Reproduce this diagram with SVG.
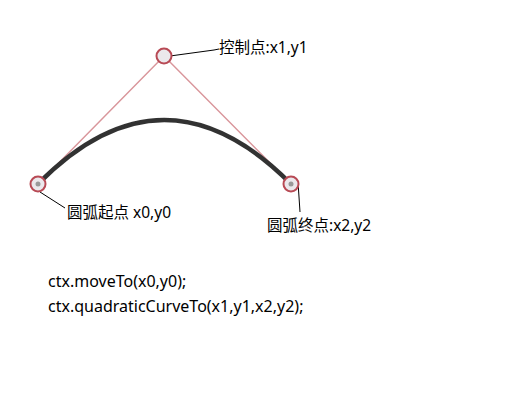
<svg xmlns="http://www.w3.org/2000/svg" width="523" height="404" viewBox="0 0 523 404">
<style>
.lbl{font-family:"Noto Sans","Noto Sans CJK SC",sans-serif;font-size:15.5px;fill:#000}
.code{font-family:"Noto Sans","Noto Sans CJK SC",sans-serif;font-size:16px;fill:#000}
.pt{fill:#ebe8ec;stroke:#b84a55;stroke-width:2}
.guide{stroke:#d9969b;stroke-width:1.5;fill:none}
.leader{stroke:#000;stroke-width:1;fill:none}
</style>
<defs>
<filter id="soft" x="-10%" y="-10%" width="120%" height="120%"><feGaussianBlur stdDeviation="0.6"/></filter>
</defs>
<rect width="523" height="404" fill="#fff"/>
<g id="connectors">
<path class="guide" d="M38 184 L164 56 L291 184"/>
<path d="M38 184 Q164 56 291 184" fill="none" stroke="#333" stroke-width="4.5" filter="url(#soft)"/>
<polyline class="leader" points="170,56 214,50 219,49"/>
<line class="leader" x1="40" y1="192" x2="65" y2="208"/>
<line class="leader" x1="298" y1="182" x2="300" y2="212"/>
</g>
<g id="start">
<circle class="pt" cx="38" cy="184" r="7.5"/>
<circle cx="38" cy="184" r="2.5" fill="#999"/>
<text class="lbl" x="67" y="218">圆弧起点 x0,y0</text>
</g>
<g id="control">
<circle class="pt" cx="164" cy="56" r="7.5"/>
<text class="lbl" x="219" y="53">控制点:x1,y1</text>
</g>
<g id="end">
<circle class="pt" cx="291" cy="184" r="7.5"/>
<circle cx="291" cy="184" r="2.5" fill="#999"/>
<text class="lbl" x="267" y="231">圆弧终点:x2,y2</text>
</g>
<g id="code">
<text class="code" x="48" y="287">ctx.moveTo(x0,y0);</text>
<text class="code" x="48" y="312">ctx.quadraticCurveTo(x1,y1,x2,y2);</text>
</g>
</svg>
